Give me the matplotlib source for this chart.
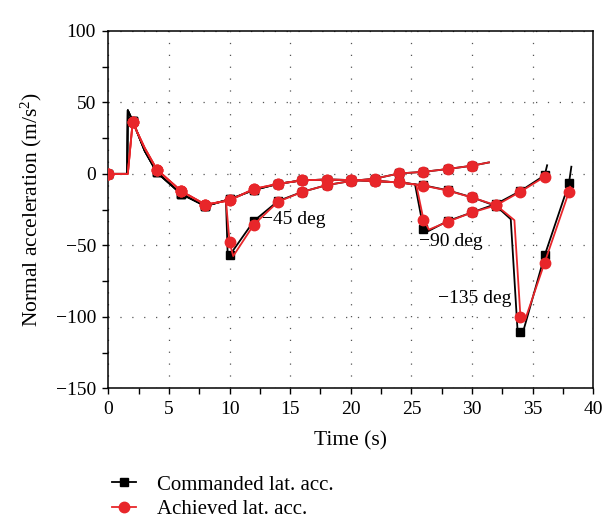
import numpy as np
import matplotlib
matplotlib.use("Agg")
import matplotlib.pyplot as plt
from matplotlib.ticker import MultipleLocator

plt.rcParams['font.family'] = ['Liberation Serif', 'DejaVu Serif']
plt.rcParams['mathtext.fontset'] = 'custom'
plt.rcParams['mathtext.rm'] = 'Liberation Serif'
plt.rcParams['mathtext.it'] = 'Liberation Serif:italic'

# shared start (before the target switch)
pre_t_cmd = [0, 1.55, 1.6, 2, 3, 4, 6, 8, 9.7]
pre_cmd = [0, 0, 44.5, 37, 16, 1, -14, -22.5, -18.5]
pre_t_ach = [0, 1.6, 2, 3, 4, 6, 8, 9.7]
pre_ach = [0, 0, 36, 18, 3, -12, -21.5, -19]

# -45 deg case
a_t_cmd = [9.85, 10, 12, 14, 16, 18, 20, 22, 24, 26, 28, 30, 31.4]
a_cmd = [-58.5, -57, -33, -19, -12.6, -7.9, -5, -3.3, 0.3, 1.4, 3.4, 5.7, 8]
a_t_ach = [10, 10.3, 12, 14, 16, 18, 20, 22, 24, 26, 28, 30, 31.4]
a_ach = [-48, -57.5, -35.5, -19.5, -12.6, -7.9, -5, -3.3, 0.3, 1.4, 3.4, 5.7, 8]

# path shared by -90 and -135 deg cases
m_t = [10, 12, 14, 16, 18, 20, 22, 24]
m_cmd = [-17.8, -11.3, -7, -4.5, -4, -4.3, -5, -6]
m_ach = [-18.6, -10.5, -7, -4.5, -4, -4.3, -5, -6]

# -90 deg case
b_t_cmd = [25.3, 26, 26.4, 28, 30, 32, 34, 36, 36.2]
b_cmd = [-7.3, -38.5, -40, -33, -27, -21, -12, -1, 6]
b_t_ach = [25.4, 26, 26.45, 28, 30, 32, 34, 36, 36.1]
b_ach = [-7.5, -32, -39, -33.5, -27, -22, -12.5, -2, -1]

# -135 deg case
c_t_cmd = [26, 28, 30, 32, 33.2, 33.75, 34, 34.3, 36, 38, 38.2]
c_cmd = [-8, -11.5, -16.4, -22.5, -31.7, -108, -110.5, -108, -57, -6.7, 5]
c_t_ach = [26, 28, 30, 32, 33.5, 34, 34.4, 36, 38, 38.1]
c_ach = [-8.2, -11.7, -16.5, -22, -32.4, -100, -101.6, -62, -12.6, -9]

labels = ['\u221245 deg', '\u221290 deg', '\u2212135 deg']
label_x = [12.7, 25.6, 27.2]
label_y = [-32, -47, -87]

cmd_runs = [
    (pre_t_cmd + a_t_cmd, pre_cmd + a_cmd),
    (pre_t_cmd + m_t + b_t_cmd, pre_cmd + m_cmd + b_cmd),
    (pre_t_cmd + m_t + c_t_cmd, pre_cmd + m_cmd + c_cmd),
]
ach_runs = [
    (pre_t_ach + a_t_ach, pre_ach + a_ach),
    (pre_t_ach + m_t + b_t_ach, pre_ach + m_ach + b_ach),
    (pre_t_ach + m_t + c_t_ach, pre_ach + m_ach + c_ach),
]

red = '#e8262a'

fig = plt.figure(figsize=(6.09, 5.15), dpi=100)
ax = fig.add_axes([0.178, 0.246, 0.796, 0.694])

def marks(t):
    t = np.asarray(t)
    return list(np.where(np.isclose(t % 2, 0))[0])

handles = []
for i, (t, y) in enumerate(cmd_runs):
    h, = ax.plot(t, y, color='black', lw=1.3, marker='s', ms=5.5,
                 markevery=marks(t), zorder=3,
                 label='Commanded lat. acc.' if i == 0 else None)
    if i == 0:
        handles.append(h)
for i, (t, y) in enumerate(ach_runs):
    h, = ax.plot(t, y, color=red, lw=1.3, marker='o', ms=7.5,
                 markevery=marks(t), zorder=4,
                 label='Achieved lat. acc.' if i == 0 else None)
    if i == 0:
        handles.append(h)

for s, x, y in zip(labels, label_x, label_y):
    ax.text(x, y, s, fontsize=14, ha='left', va='center', zorder=5)

ax.set_xlim(0, 40)
ax.set_ylim(-150, 100)
ax.xaxis.set_major_locator(MultipleLocator(5))
ax.xaxis.set_minor_locator(MultipleLocator(2.5))
ax.yaxis.set_major_locator(MultipleLocator(50))
ax.yaxis.set_minor_locator(MultipleLocator(25))
ax.tick_params(which='both', direction='out', length=4, width=1, labelsize=14, pad=5)
ax.grid(True, which='major', color='#555555', lw=0.9, linestyle=(0, (1, 8.5)))
for sp in ax.spines.values():
    sp.set_linewidth(1.1)

ax.set_xlabel('Time (s)', fontsize=15.5, labelpad=10)
ax.set_ylabel('Normal acceleration (m/s$^2$)', fontsize=15.5, labelpad=8)

fig.legend(handles=handles, loc='upper left', bbox_to_anchor=(0.17, 0.094),
           frameon=False, fontsize=15, handlelength=1.15, handletextpad=1.0,
           labelspacing=0.25, borderaxespad=0)

fig.savefig('out.png', dpi=100)
